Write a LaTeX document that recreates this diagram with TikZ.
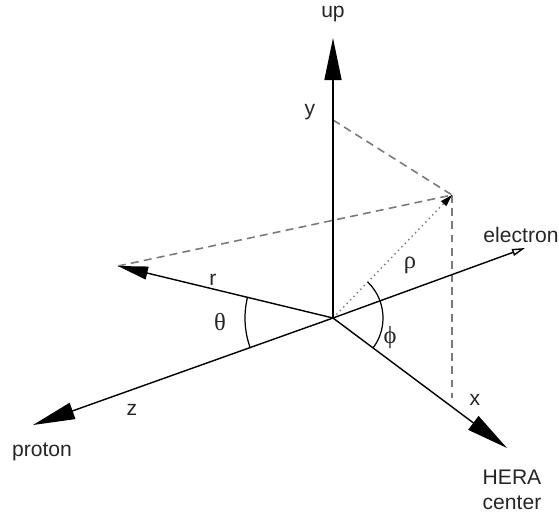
\documentclass[tikz,border=0pt]{standalone}
\usepackage{fontspec}
\setmainfont{Liberation Sans}
\newfontfamily\greekfont{Liberation Serif}
\usetikzlibrary{arrows.meta,calc}

\begin{document}
\begin{tikzpicture}[
    font=\fontsize{12}{14.5}\selectfont,
    bigAxis/.style={line width=0.8pt, -{Triangle[length=0.84cm, width=0.34cm]}},
    projLine/.style={draw=dashColour, line width=0.9pt, dash pattern=on 4.5pt off 3pt},
    label/.style={text=textColour, inner sep=1pt},
    greek/.style={label, font=\fontsize{14}{16}\selectfont\greekfont},
  ]
    \definecolor{textColour}{HTML}{262626}
    \definecolor{dashColour}{HTML}{7A7A7A}

    \useasboundingbox (-6.66,-3.96) rectangle (4.52,6.36);

    % Define origin, axis ends and the point
    \coordinate (O) at (0,0);
    \coordinate (Up) at (0,5.6);
    \coordinate (Z) at (-6.0,-2.14);
    \coordinate (X) at (3.48,-2.6);
    \coordinate (E) at (3.84,1.4);
    \coordinate (R) at (-4.3,1.04);
    \coordinate (P) at (2.38,2.46);
    \coordinate (Py) at (0,3.96);
    \coordinate (Pf) at (2.38,-1.6);

    % Draw projections of the point
    \draw[projLine] (Py) -- (P);
    \draw[projLine] (R) -- (P);
    \draw[projLine] (P) -- (Pf);
    \draw[dashColour, line width=0.8pt, dotted] (O) -- (P);
    \draw[-{Triangle[length=0.24cm, width=0.14cm]}, line width=0.6pt] ($(O)!0.93!(P)$) -- (P);

    % Draw axes
    \draw[bigAxis] (O) -- (Up);
    \draw[bigAxis] (O) -- (Z);
    \draw[bigAxis] (O) -- (X);
    \draw[line width=0.8pt, -{Triangle[open, length=0.26cm, width=0.14cm]}] (O) -- (E);
    \draw[line width=0.8pt, -{Triangle[length=0.6cm, width=0.26cm]}] (O) -- (R);

    % Draw angles
    \draw[line width=0.7pt] (166.4:1.76) arc (166.4:199.6:1.76);
    \draw[line width=0.7pt] (-36.8:1.0) arc (-36.8:46:1.0);

    % Label axes and angles
    \node[label] (upL) at (0,6.08) {up};
    \node[label] (yL) at (-0.46,4.12) {y};
    \node[label] (zL) at (-4.02,-1.84) {z};
    \node[label] (xL) at (2.84,-1.64) {x};
    \node[label] (rL) at (-2.4,0.76) {r};
    \node[label] (protonL) at (-5.82,-2.68) {proton};
    \node[label] (electronL) at (3.76,1.66) {electron};
    \node[label, align=center] (heraL) at (3.58,-3.44) {HERA\\center};
    \node[greek] (thetaL) at (-2.26,-0.08) {θ};
    \node[greek] (phiL) at (1.14,-0.4) {ϕ};
    \node[greek] (rhoL) at (1.54,1.06) {ρ};

\end{tikzpicture}
\end{document}
